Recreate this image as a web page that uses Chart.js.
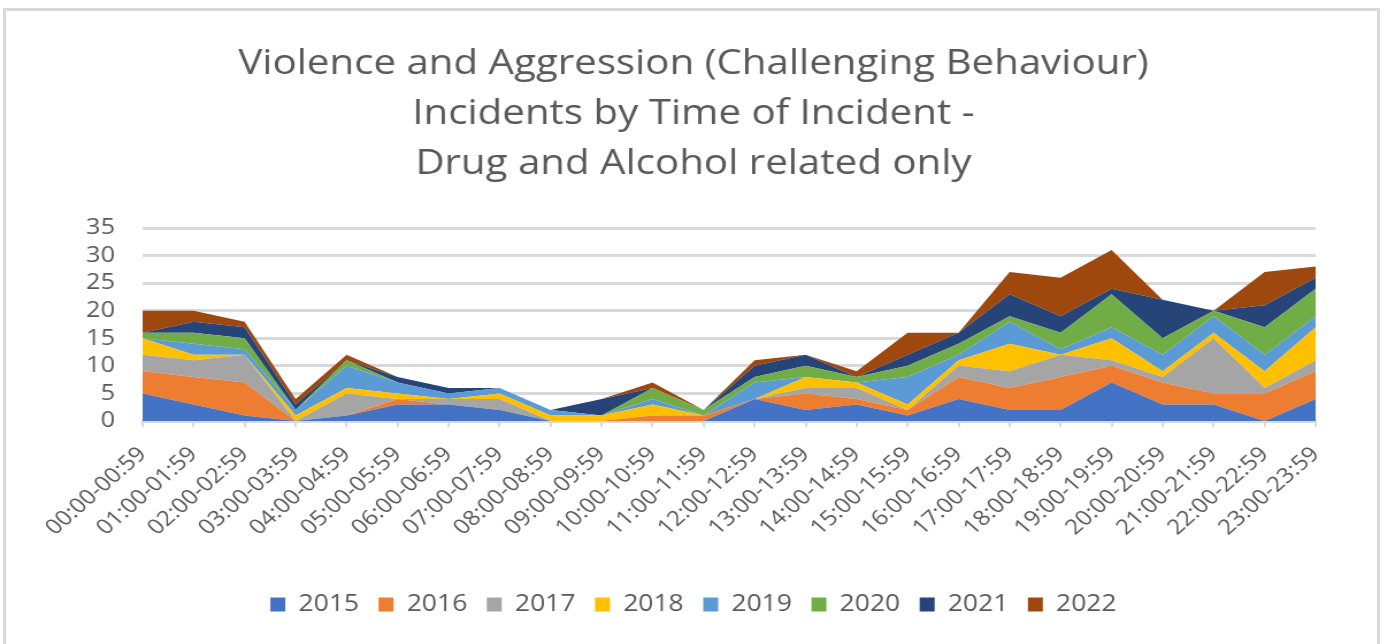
<!DOCTYPE html>
<html>
<head>
<meta charset="utf-8">
<script src="https://cdn.jsdelivr.net/npm/chart.js@4/dist/chart.umd.min.js"></script>
<style>
  html, body { margin: 0; padding: 0; background: #fff; overflow: hidden; }
  #frame {
    position: absolute; left: 3px; top: 8px; width: 1377px; height: 700px;
    border: 3px solid #d9d9d9; box-sizing: border-box;
  }
  /* the reference picture is stretched sideways, so the chart is drawn narrower and scaled */
  #wrap {
    position: absolute; left: 0; top: 0; width: 1206px; height: 644px;
    transform: scaleX(1.15); transform-origin: 0 0;
  }
</style>
</head>
<body>
<div id="frame"></div>
<div id="wrap"><canvas id="chart" width="1206" height="644"></canvas></div>
<script>
const hours = [
  "00:00-00:59", "01:00-01:59", "02:00-02:59", "03:00-03:59", "04:00-04:59", "05:00-05:59",
  "06:00-06:59", "07:00-07:59", "08:00-08:59", "09:00-09:59", "10:00-10:59", "11:00-11:59",
  "12:00-12:59", "13:00-13:59", "14:00-14:59", "15:00-15:59", "16:00-16:59", "17:00-17:59",
  "18:00-18:59", "19:00-19:59", "20:00-20:59", "21:00-21:59", "22:00-22:59", "23:00-23:59"
];

const years = ["2015", "2016", "2017", "2018", "2019", "2020", "2021", "2022"];

const y2015 = [5, 3, 1, 0, 1, 3, 3, 2, 0, 0, 0, 0, 4, 2, 3, 1, 4, 2, 2, 7, 3, 3, 0, 4];
const y2016 = [4, 5, 6, 0, 0, 1, 0, 0, 0, 0, 1, 1, 0, 3, 1, 1, 4, 4, 6, 3, 4, 2, 5, 5];
const y2017 = [3, 3, 5, 0, 4, 0, 1, 2, 0, 0, 0, 0, 0, 1, 2, 0, 2, 3, 4, 1, 1, 10, 1, 2];
const y2018 = [3, 1, 0, 1, 1, 1, 0, 1, 1, 1, 2, 0, 0, 2, 1, 1, 1, 5, 0, 4, 1, 1, 3, 6];
const y2019 = [0, 2, 1, 1, 4, 2, 1, 1, 1, 0, 1, 0, 3, 0, 0, 5, 1, 4, 1, 2, 3, 3, 3, 2];
const y2020 = [1, 2, 2, 0, 1, 0, 0, 0, 0, 0, 2, 1, 1, 2, 1, 2, 2, 1, 3, 6, 3, 1, 5, 5];
const y2021 = [0, 2, 2, 1, 0, 1, 1, 0, 0, 3, 0, 0, 2, 2, 0, 2, 2, 4, 3, 1, 7, 0, 4, 2];
const y2022 = [4, 2, 1, 1, 1, 0, 0, 0, 0, 0, 1, 0, 1, 0, 1, 4, 0, 4, 7, 7, 0, 0, 6, 2];

const series = [y2015, y2016, y2017, y2018, y2019, y2020, y2021, y2022];
const colours = ["#4472C4", "#ED7D31", "#A5A5A5", "#FFC000", "#5B9BD5", "#70AD47", "#264478", "#9E480E"];

const textGrey = "#595959";
const gridGrey = "#d9d9d9";
const font = "'Open Sans', 'Noto Sans', sans-serif";

const datasets = years.map((yr, i) => ({
  label: yr,
  data: series[i],
  backgroundColor: colours[i],
  borderColor: colours[i],
  borderWidth: 0,
  pointRadius: 0,
  pointHoverRadius: 0,
  tension: 0,
  fill: i === 0 ? 'origin' : '-1'
}));

new Chart(document.getElementById("chart"), {
  type: 'line',
  data: { labels: hours, datasets: datasets },
  options: {
    responsive: false,
    animation: false,
    layout: { padding: { left: 0, right: 0, top: 0, bottom: 18 } },
    plugins: {
      tooltip: { enabled: false },
      title: {
        display: true,
        text: [
          "Violence and Aggression (Challenging Behaviour)",
          "Incidents by Time of Incident -",
          "Drug and Alcohol related only"
        ],
        color: textGrey,
        font: { family: font, size: 35, weight: 'normal', lineHeight: 50 / 35 },
        padding: { top: 39, bottom: 39 }
      },
      legend: {
        position: 'bottom',
        labels: {
          color: textGrey,
          font: { family: font, size: 23 },
          boxWidth: 13,
          boxHeight: 14,
          padding: 17
        }
      }
    },
    scales: {
      x: {
        offset: false,
        grid: { drawOnChartArea: false, drawTicks: true, tickLength: 6, color: gridGrey, lineWidth: 2 },
        border: { color: gridGrey, width: 2 },
        ticks: {
          color: textGrey,
          font: { family: font, size: 21 },
          maxRotation: 45,
          minRotation: 45,
          autoSkip: false,
          padding: 15
        },
        afterFit: (scale) => { scale.height = 155; scale.paddingRight = 62; }
      },
      y: {
        stacked: true,
        min: 0,
        max: 35,
        grid: { color: gridGrey, lineWidth: 3, drawTicks: false },
        border: { display: false },
        ticks: {
          stepSize: 5,
          autoSkip: false,
          color: textGrey,
          font: { family: font, size: 22 },
          padding: 24
        },
        afterFit: (scale) => { scale.width = 124; }
      }
    }
  }
});
</script>
</body>
</html>
